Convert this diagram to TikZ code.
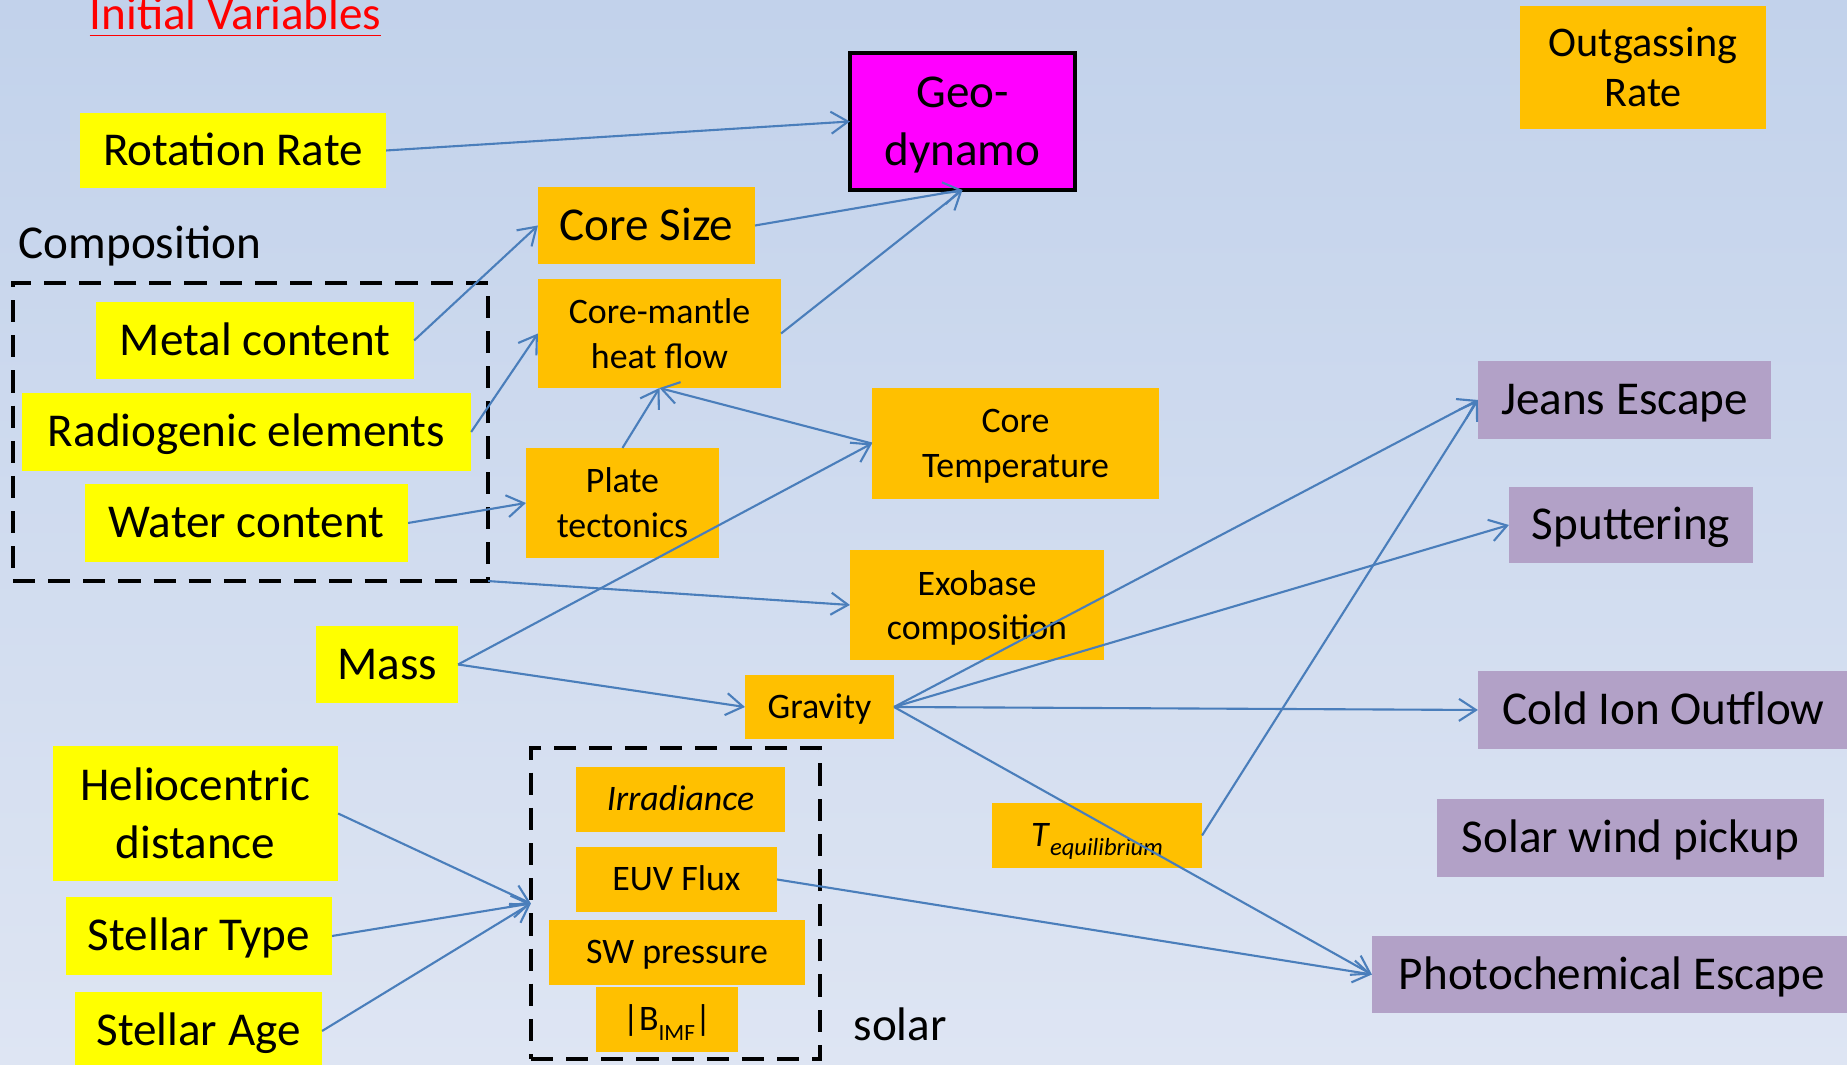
\documentclass[tikz,border=0pt]{standalone}
\usepackage{fontspec}
\setmainfont{Carlito}
\usepackage{tikz}
\usetikzlibrary{arrows.meta}
\definecolor{bgtop}{RGB}{194,210,235}
\definecolor{bgbottom}{RGB}{222,229,243}
\definecolor{varyellow}{RGB}{255,255,0}
\definecolor{procorange}{RGB}{255,192,0}
\definecolor{lossviolet}{RGB}{178,161,199}
\definecolor{geomagenta}{RGB}{255,0,255}
\definecolor{linkblue}{RGB}{74,126,187}
\definecolor{titlered}{RGB}{255,0,0}

\newcommand{\bigtxt}{\fontsize{13.4}{16.5}\selectfont}
\newcommand{\midtxt}{\fontsize{10.2}{12.7}\selectfont}

\begin{document}
\begin{tikzpicture}[x=0.01cm, y=-0.01cm,
    inbox/.style={fill=varyellow, font=\bigtxt, inner sep=0pt, outer sep=0pt, align=center},
    midbox/.style={fill=procorange, font=\midtxt, inner sep=0pt, outer sep=0pt, align=center},
    lossbox/.style={fill=lossviolet, font=\bigtxt, inner sep=0pt, outer sep=0pt, align=center},
    bigline/.style={text height=8.5pt, text depth=0pt},
    midline/.style={text height=6.45pt, text depth=0pt},
    dashbox/.style={draw=black, line width=1.3pt, dash pattern=on 6.3pt off 3.7pt, inner sep=0pt, outer sep=0pt},
    conn/.style={draw=linkblue, line width=0.6pt, -{Straight Barb[length=1.7mm,width=2.2mm]}}]
    % Background
    \useasboundingbox (0,0) rectangle (1847,1065);
    \shade[top color=bgtop, bottom color=bgbottom] (0,0) rectangle (1847,1065);
    \clip (0,0) rectangle (1847,1065);

    % Title
    \node[font=\bigtxt, text=titlered, anchor=base west, inner sep=0pt] (title) at (89,30) {\underline{Initial Variables}};

    % Initial variables: planet
    \node[inbox, bigline, minimum width=3.06cm, minimum height=0.75cm] (rot) at (233,150.5) {Rotation Rate};
    \node[font=\bigtxt, anchor=base west, inner sep=0pt] (complabel) at (18,259) {Composition};
    \node[dashbox, minimum width=4.75cm, minimum height=2.98cm] (comp) at (250.5,432) {};
    \node[inbox, bigline, minimum width=3.18cm, minimum height=0.77cm] (metal) at (255,340.5) {Metal content};
    \node[inbox, bigline, minimum width=4.49cm, minimum height=0.78cm] (radio) at (246.5,432) {Radiogenic elements};
    \node[inbox, bigline, minimum width=3.23cm, minimum height=0.78cm] (water) at (246.5,523) {Water content};
    \node[inbox, bigline, minimum width=1.42cm, minimum height=0.77cm] (mass) at (387,664.5) {Mass};

    % Initial variables: star
    \node[inbox, minimum width=2.85cm, minimum height=1.35cm] (helio) at (195.5,813.5) {Heliocentric\\distance};
    \node[inbox, bigline, minimum width=2.66cm, minimum height=0.78cm] (stype) at (199,936) {Stellar Type};
    \node[inbox, bigline, minimum width=2.47cm, minimum height=0.78cm] (sage) at (198.5,1031) {Stellar Age};

    % Interior
    \node[fill=geomagenta, draw=black, line width=0.9pt, font=\bigtxt, inner sep=0pt, outer sep=0pt, align=center, minimum width=2.25cm, minimum height=1.37cm] (geo) at (962.5,121.5) {Geo-\\\smash{dynamo}};
    \node[midbox, bigline, font=\bigtxt, minimum width=2.17cm, minimum height=0.77cm] (coresize) at (646.5,225.5) {Core Size};
    \node[midbox, minimum width=2.43cm, minimum height=1.09cm] (cmflow) at (659.5,333.5) {Core-mantle\\heat flow};
    \node[midbox, minimum width=1.93cm, minimum height=1.10cm] (plate) at (622.5,503) {Plate\\tectonics};
    \node[midbox, minimum width=2.87cm, minimum height=1.11cm] (coretemp) at (1015.5,443.5) {Core\\\smash{Temperature}};
    \node[midbox, minimum width=2.54cm, minimum height=1.10cm] (exo) at (977,605) {Exobase\\\smash{composition}};
    \node[midbox, midline, minimum width=1.49cm, minimum height=0.64cm] (gravity) at (819.5,707) {Gravity};
    \node[midbox, font=\fontsize{12}{14.2}\selectfont, minimum width=2.46cm, minimum height=1.23cm] (outgas) at (1643,67.5) {Outgassing\\Rate};

    % Solar drivers
    \node[dashbox, minimum width=2.89cm, minimum height=3.11cm] (solar) at (675.5,903.5) {};
    \node[font=\bigtxt, anchor=base west, inner sep=0pt] (solarlabel) at (853,1041) {solar};
    \node[midbox, midline, minimum width=2.09cm, minimum height=0.65cm] (irrad) at (680.5,799.5) {\textit{Irradiance}};
    \node[midbox, midline, minimum width=2.01cm, minimum height=0.65cm] (euv) at (676.5,879.5) {EUV Flux};
    \node[midbox, midline, minimum width=2.56cm, minimum height=0.65cm] (swp) at (677,952.5) {SW pressure};
    \node[midbox, midline, minimum width=1.42cm, minimum height=0.65cm] (bimf) at (667,1019.5) {|B\raisebox{-2.8pt}{\fontsize{6.6}{7}\selectfont IMF}|};
    \node[midbox, midline, minimum width=2.10cm, minimum height=0.65cm] (teq) at (1097,835.5) {\textit{T}\raisebox{-2.5pt}{\fontsize{7}{8}\selectfont\textit{equilibrium}}};

    % Escape processes
    \node[lossbox, bigline, minimum width=2.93cm, minimum height=0.78cm] (jeans) at (1624.5,400) {Jeans Escape};
    \node[lossbox, bigline, minimum width=2.44cm, minimum height=0.76cm] (sputter) at (1631,525) {Sputtering};
    \node[lossbox, bigline, minimum width=3.71cm, minimum height=0.78cm] (coldion) at (1663.5,710) {Cold Ion Outflow};
    \node[lossbox, bigline, minimum width=3.87cm, minimum height=0.78cm] (swpick) at (1630.5,838) {Solar wind pickup};
    \node[lossbox, bigline, minimum width=4.80cm, minimum height=0.77cm] (photo) at (1612,974.5) {Photochemical Escape};

    % Links
    \draw[conn] (rot.east) -- (geo.west);
    \draw[conn] (coresize.east) -- (geo.south);
    \draw[conn] (cmflow.east) -- (geo.south);
    \draw[conn] (metal.east) -- (coresize.west);
    \draw[conn] (radio.east) -- (cmflow.west);
    \draw[conn] (water.east) -- (plate.west);
    \draw[conn] (plate.north) -- (cmflow.south);
    \draw[conn] (coretemp.west) -- (cmflow.south);
    \draw[conn] (mass.east) -- (coretemp.west);
    \draw[conn] (mass.east) -- (gravity.west);
    \draw[conn] (comp.south east) -- (exo.west);
    \draw[conn] (gravity.east) -- (jeans.west);
    \draw[conn] (gravity.east) -- (sputter.west);
    \draw[conn] (gravity.east) -- (coldion.west);
    \draw[conn] (gravity.east) -- (photo.west);
    \draw[conn] (teq.east) -- (jeans.west);
    \draw[conn] (euv.east) -- (photo.west);
    \draw[conn] (helio.east) -- (solar.west);
    \draw[conn] (stype.east) -- (solar.west);
    \draw[conn] (sage.east) -- (solar.west);
\end{tikzpicture}
\end{document}
